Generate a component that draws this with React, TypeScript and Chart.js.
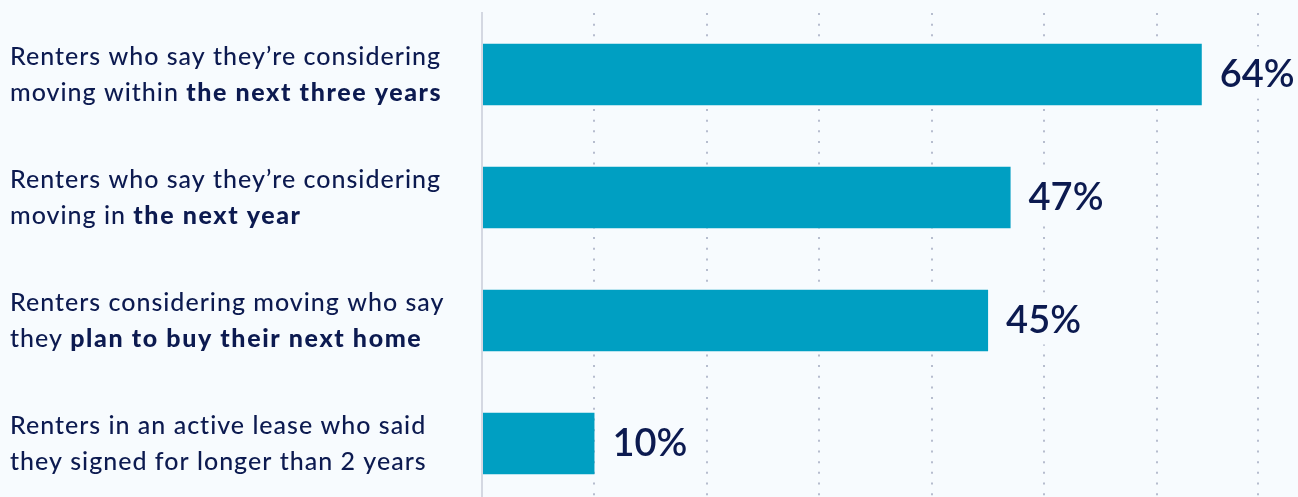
import { useEffect, useRef } from "react";
import { Chart, registerables } from "chart.js";

Chart.register(...registerables);

const labelLine1 = [
  "Renters who say they’re considering",
  "Renters who say they’re considering",
  "Renters considering moving who say",
  "Renters in an active lease who said",
];
const labelLine2Plain = ["moving within ", "moving in ", "they ", "they signed for longer than 2 years"];
const labelLine2Bold = ["the next three years", "the next year", "plan to buy their next home", ""];
const values = [64, 47, 45, 10];
const axisMax = 69;
const tickStep = 10;

const BG = "#f7fbfe";
const NAVY = "#0c1a50";
const BAR = "#009fc2";
const FONT = "Lato";

const labelPlugin = {
  id: "customLabels",
  afterDraw(chart: any) {
    const ctx = chart.ctx;
    const meta = chart.getDatasetMeta(0);
    ctx.save();
    meta.data.forEach((bar: any, i: number) => {
      const y = bar.y;
      // left labels
      ctx.fillStyle = NAVY;
      ctx.textAlign = "left";
      ctx.textBaseline = "alphabetic";
      (ctx as any).letterSpacing = "1px";
      ctx.font = `500 25px ${FONT}`;
      ctx.fillText(labelLine1[i], 10, y - 10);
      ctx.fillText(labelLine2Plain[i], 10, y + 26);
      const w = ctx.measureText(labelLine2Plain[i]).width;
      (ctx as any).letterSpacing = "1.6px";
      ctx.font = `900 25px ${FONT}`;
      ctx.fillText(labelLine2Bold[i], 10 + w, y + 26);
      // value labels
      (ctx as any).letterSpacing = "0px";
      const txt = `${values[i]}%`;
      ctx.font = `600 38px ${FONT}`;
      const tw = ctx.measureText(txt).width;
      const tx = bar.x + 18;
      ctx.fillStyle = BG;
      ctx.fillRect(tx - 6, y - 28, tw + 12, 52);
      ctx.fillStyle = NAVY;
      ctx.textBaseline = "middle";
      ctx.fillText(txt, tx, y);
    });
    ctx.restore();
  },
};

export default function App() {
  const ref = useRef<HTMLCanvasElement>(null);
  useEffect(() => {
    document.body.style.margin = "0";
    document.body.style.background = BG;
    const chart = new Chart(ref.current as HTMLCanvasElement, {
      type: "bar",
      data: {
        labels: labelLine1,
        datasets: [
          {
            data: values,
            backgroundColor: BAR,
            borderWidth: 0,
            barPercentage: 1,
            categoryPercentage: 0.5,
          },
        ],
      },
      options: {
        indexAxis: "y",
        responsive: false,
        maintainAspectRatio: false,
        devicePixelRatio: 1,
        animation: false,
        layout: { padding: { left: 482, right: 40, top: 13, bottom: 0 } },
        plugins: { legend: { display: false }, tooltip: { enabled: false } },
        scales: {
          x: {
            min: 0,
            max: axisMax,
            ticks: { display: false, stepSize: tickStep },
            grid: {
              drawTicks: false,
              lineWidth: 2,
              color: (c: any) => (c.tick && c.tick.value === 0 ? "rgba(0,0,0,0)" : "rgba(160,168,190,0.75)"),
            },
            border: { display: false, dash: [2, 8.67] },
          },
          y: {
            ticks: { display: false },
            grid: { display: false, drawTicks: false },
            border: { display: true, color: "#d4d8e2", width: 2 },
          },
        },
      },
      plugins: [labelPlugin],
    });
    return () => chart.destroy();
  }, []);
  return (
    <div style={{ position: "fixed", left: 0, top: 0, width: 1298, height: 497, overflow: "hidden", background: BG }}>
      <canvas ref={ref} width={1298} height={505} style={{ display: "block", width: 1298, height: 505 }} />
    </div>
  );
}
